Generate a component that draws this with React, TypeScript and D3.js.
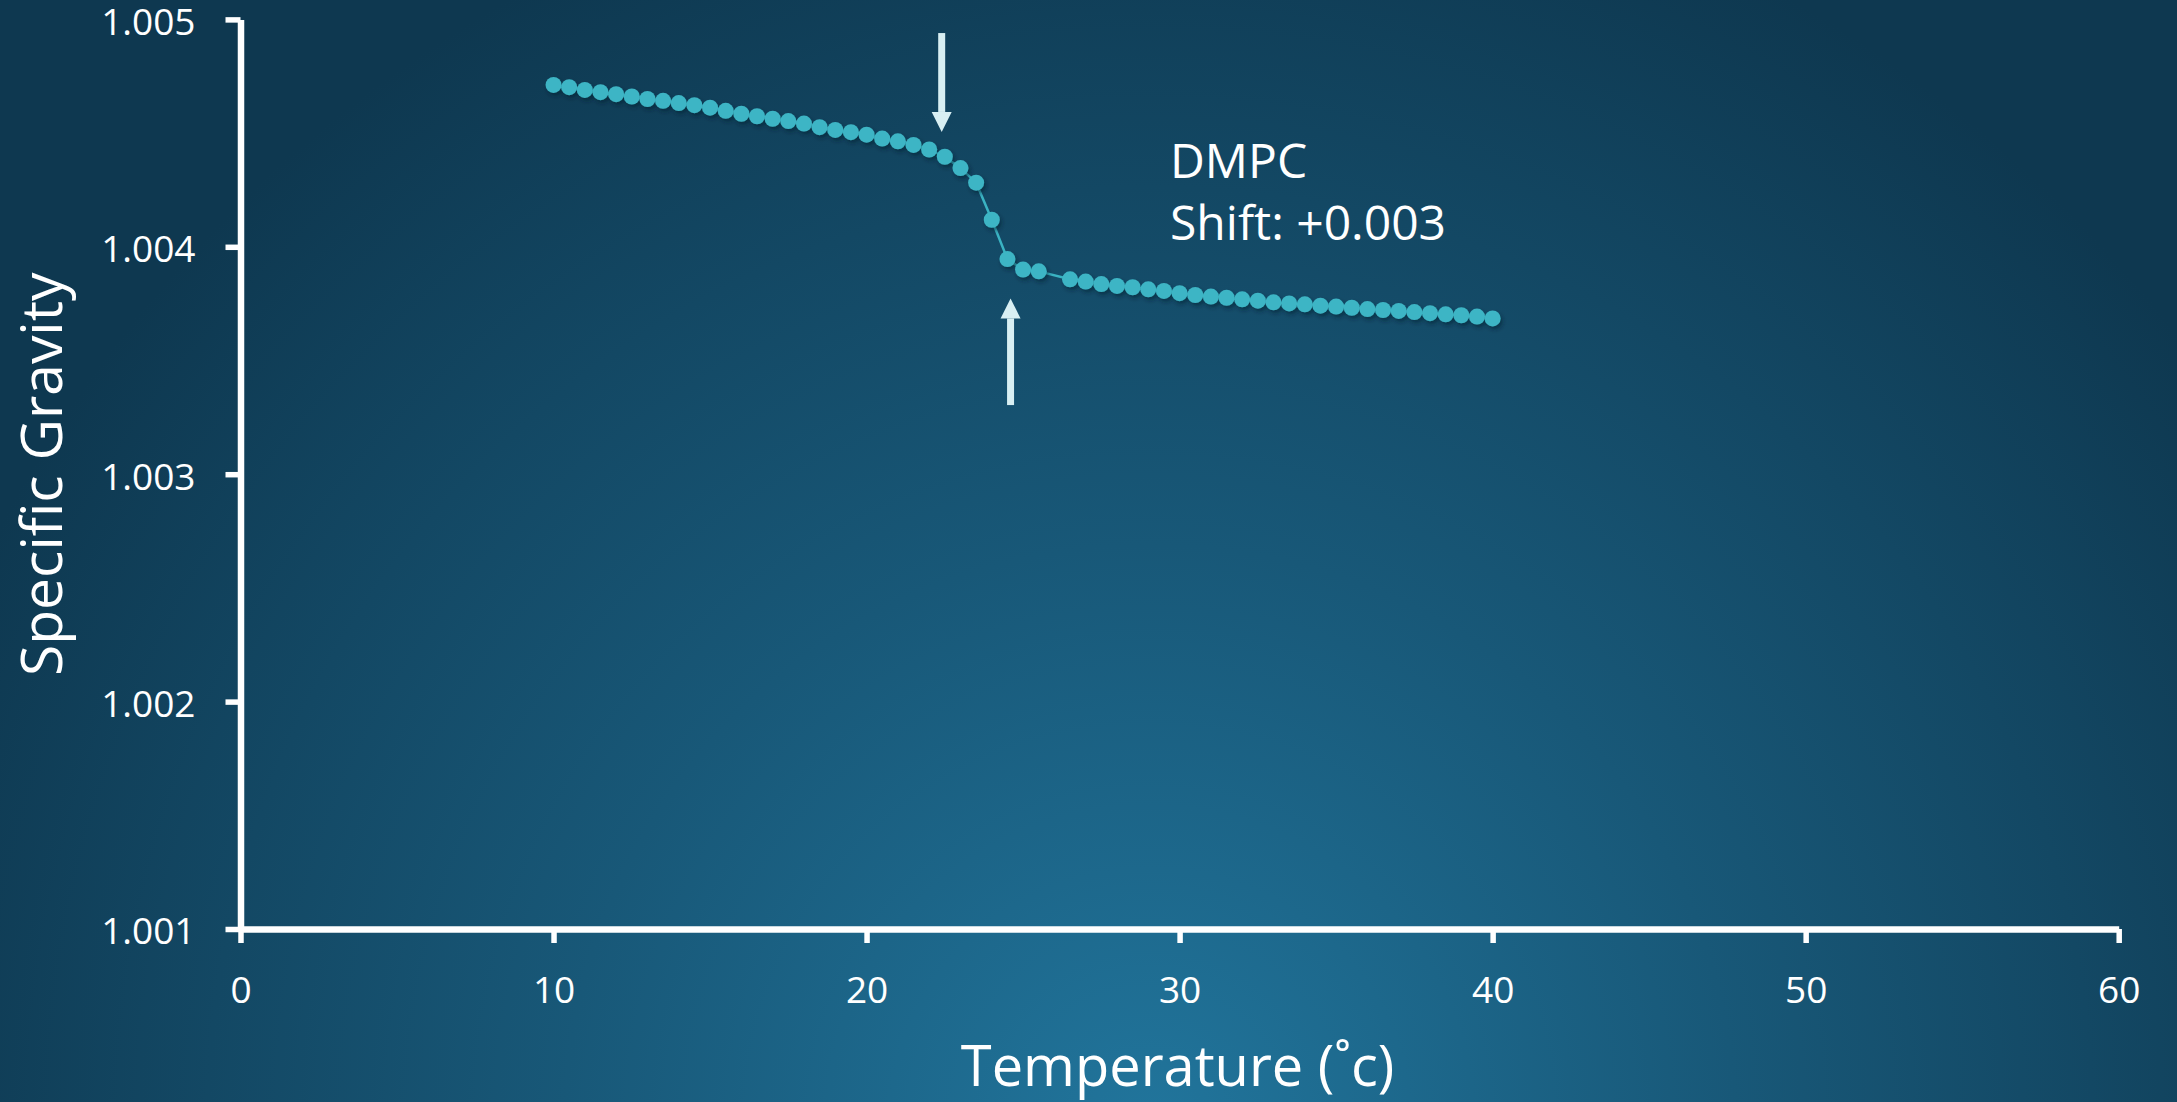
import React, { useEffect, useRef } from 'react';
import * as d3 from 'd3';

const temps = [
  10, 10.5, 11, 11.5, 12, 12.5, 13, 13.5, 14, 14.5, 15, 15.5, 16, 16.5, 17, 17.5,
  18, 18.5, 19, 19.5, 20, 20.5, 21, 21.5, 22, 22.5, 23, 23.5, 24, 24.5, 25, 25.5,
  26.5, 27, 27.5, 28, 28.5, 29, 29.5, 30, 30.5, 31, 31.5, 32, 32.5, 33, 33.5, 34,
  34.5, 35, 35.5, 36, 36.5, 37, 37.5, 38, 38.5, 39, 39.5, 40,
];

const gravity = [
  1.004712, 1.004702, 1.00469, 1.00468, 1.004671, 1.004661, 1.00465, 1.004642,
  1.004632, 1.004623, 1.004612, 1.004598, 1.004585, 1.004574, 1.004563, 1.004553,
  1.004542, 1.004526, 1.004514, 1.004504, 1.004493, 1.004476, 1.004464, 1.004448,
  1.004428, 1.004396, 1.004346, 1.004282, 1.004119, 1.003946, 1.0039, 1.003892,
  1.003857, 1.003847, 1.003836, 1.003828, 1.003822, 1.003813, 1.003806, 1.003796,
  1.003788, 1.003781, 1.003776, 1.003769, 1.003763, 1.003756, 1.003751, 1.003747,
  1.003741, 1.003737, 1.003732, 1.003726, 1.003722, 1.003718, 1.003713, 1.003708,
  1.003703, 1.003699, 1.003693, 1.003685,
];

const xTicks = [0, 10, 20, 30, 40, 50, 60];
const yTicks = [1.001, 1.002, 1.003, 1.004, 1.005];

// annotation arrows: [temperature, from, to]
const arrows = [
  { x: 22.4, from: 1.00494, to: 1.004505 },
  { x: 24.6, from: 1.003304, to: 1.003773 },
];

const labelLines = ['DMPC', 'Shift: +0.003'];

const W = 2177;
const H = 1102;
const FONT = '"Open Sans", Lato, sans-serif';

export default function App() {
  const svgRef = useRef<SVGSVGElement | null>(null);

  useEffect(() => {
    const svg = d3.select(svgRef.current);
    svg.selectAll('*').remove();

    const margin = { left: 240.5, right: 58.3, top: 19.4, bottom: 173 };

    const x = d3.scaleLinear().domain([0, 60]).range([margin.left, W - margin.right]);
    const y = d3.scaleLinear().domain([1.001, 1.005]).range([H - margin.bottom, margin.top]);

    const defs = svg.append('defs');
    const grad = defs.append('radialGradient')
      .attr('id', 'bg')
      .attr('gradientUnits', 'userSpaceOnUse')
      .attr('cx', 1150).attr('cy', 1130).attr('r', 1300);
    grad.append('stop').attr('offset', 0).attr('stop-color', '#21759c');
    grad.append('stop').attr('offset', 0.45).attr('stop-color', '#185878');
    grad.append('stop').attr('offset', 1).attr('stop-color', '#0e3850');

    const shadow = defs.append('filter').attr('id', 'shadow')
      .attr('x', '-50%').attr('y', '-50%').attr('width', '200%').attr('height', '200%');
    shadow.append('feDropShadow')
      .attr('dx', 2).attr('dy', 3).attr('stdDeviation', 2)
      .attr('flood-color', '#06202e').attr('flood-opacity', 0.55);

    svg.append('rect').attr('width', W).attr('height', H).attr('fill', 'url(#bg)');

    // axes
    const yAxis = svg.append('g')
      .attr('transform', `translate(${margin.left},0)`)
      .call(d3.axisLeft(y).tickValues(yTicks).tickSize(15).tickSizeOuter(0).tickPadding(30)
        .tickFormat(d3.format('.3f')));
    const xAxis = svg.append('g')
      .attr('transform', `translate(0,${H - margin.bottom})`)
      .call(d3.axisBottom(x).tickValues(xTicks).tickSize(14).tickSizeOuter(0).tickPadding(34));

    [yAxis, xAxis].forEach(g => {
      g.select('.domain').attr('stroke', '#ffffff').attr('stroke-width', 6.5);
      g.selectAll('.tick line').attr('stroke', '#ffffff').attr('stroke-width', 5.5);
      g.selectAll('.tick text')
        .attr('fill', '#ffffff')
        .style('font-family', FONT)
        .style('font-size', '37px');
    });
    yAxis.selectAll('.tick text').attr('dy', '0.4em');

    // connecting line
    const pts = temps.map((t, i) => [t, gravity[i]] as [number, number]);
    svg.append('path')
      .datum(pts)
      .attr('fill', 'none')
      .attr('stroke', '#3ab3c3')
      .attr('stroke-width', 2.5)
      .attr('d', d3.line().x(d => x(d[0])).y(d => y(d[1])));

    svg.append('g')
      .attr('filter', 'url(#shadow)')
      .selectAll('circle')
      .data(pts)
      .enter().append('circle')
      .attr('cx', d => x(d[0]))
      .attr('cy', d => y(d[1]))
      .attr('r', 8)
      .attr('fill', '#3db5c5');

    // arrows
    arrows.forEach(a => {
      const dir = Math.sign(y(a.to) - y(a.from));
      const tipY = y(a.to);
      const baseY = tipY - dir * 20;
      const ax = x(a.x);
      svg.append('line')
        .attr('x1', ax).attr('x2', ax)
        .attr('y1', y(a.from)).attr('y2', baseY)
        .attr('stroke', '#d8eff3').attr('stroke-width', 7);
      svg.append('path')
        .attr('d', `M${ax - 10},${baseY}L${ax + 10},${baseY}L${ax},${tipY}Z`)
        .attr('fill', '#d8eff3');
    });

    // annotation text
    svg.append('text')
      .attr('x', 1170).attr('y', 178)
      .attr('fill', '#ffffff')
      .style('font-family', FONT).style('font-size', '48px')
      .selectAll('tspan')
      .data(labelLines)
      .enter().append('tspan')
      .attr('x', 1170)
      .attr('dy', (d, i) => (i === 0 ? 0 : 62))
      .text(d => d);

    // axis titles
    svg.append('text')
      .attr('x', (x(0) + x(60)) / 2 - 2)
      .attr('y', 1086)
      .attr('text-anchor', 'middle')
      .attr('fill', '#ffffff')
      .style('font-family', FONT).style('font-size', '56px')
      .text('Temperature (˚c)');

    svg.append('text')
      .attr('transform', `translate(62,${(y(1.001) + y(1.005)) / 2}) rotate(-90)`)
      .attr('text-anchor', 'middle')
      .attr('fill', '#ffffff')
      .style('font-family', FONT).style('font-size', '57px')
      .text('Specific Gravity');
  }, []);

  return (
    <svg
      ref={svgRef}
      width={W}
      height={H}
      style={{ position: 'absolute', left: 0, top: 0, display: 'block' }}
    />
  );
}
